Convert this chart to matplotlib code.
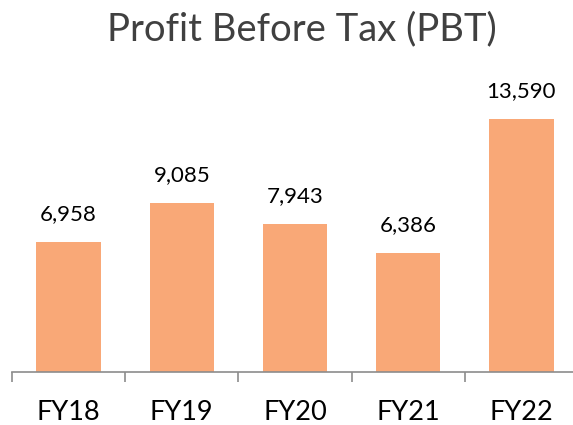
import matplotlib
matplotlib.use("Agg")
import matplotlib.pyplot as plt
from matplotlib.ticker import FixedLocator

categories = ["FY18", "FY19", "FY20", "FY21", "FY22"]
pbt = [6958, 9085, 7943, 6386, 13590]
labels = ["6,958", "9,085", "7,943", "6,386", "13,590"]
title = "Profit Before Tax (PBT)"

plt.rcParams['font.family'] = ['Lato', 'DejaVu Sans']

fig = plt.figure(figsize=(5.73, 4.25), dpi=100)
ax = fig.add_axes([12/573, 53/425, 566/573, 298/425])
x = list(range(len(categories)))
bars = ax.bar(x, pbt, width=0.57, color="#F9A877")
ax.set_xlim(-0.5, len(categories) - 0.5)
ax.set_ylim(0, 16000)

for xi, v, lab in zip(x, pbt, labels):
    ax.annotate(lab, (xi, v), xytext=(0, 13), textcoords="offset points",
                ha="center", va="bottom", fontsize=16, color="#000000")

for s in ["top", "right", "left"]:
    ax.spines[s].set_visible(False)
ax.spines["bottom"].set_color("#8C8C8C")
ax.spines["bottom"].set_linewidth(1.2)
ax.set_yticks([])
ax.set_xticks(x)
ax.set_xticklabels(categories, fontsize=19.5, color="#000000")
ax.tick_params(axis="x", which="major", length=0, pad=20)
ax.xaxis.set_minor_locator(FixedLocator([i - 0.5 for i in range(len(categories) + 1)]))
ax.tick_params(axis="x", which="minor", length=7.5, width=1.2, color="#8C8C8C")

fig.text(302/573, 0.93, title, ha="center", va="center", fontsize=27.5, color="#404040")

fig.savefig("out.png", dpi=100)
